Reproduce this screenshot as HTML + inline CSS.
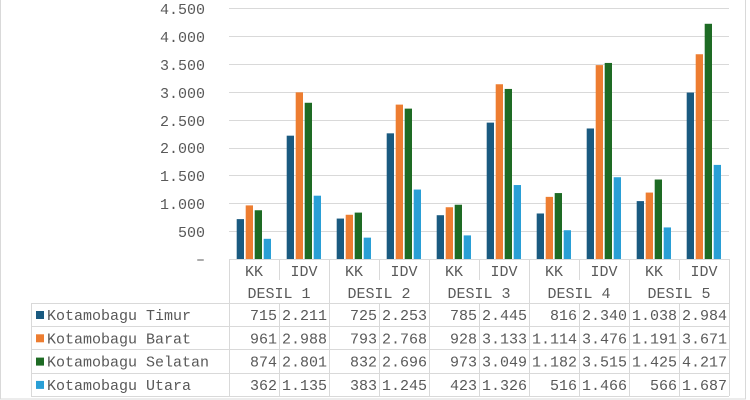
<!DOCTYPE html><html><head><style>body{margin:0;background:#fff}svg{display:block}svg text{font-family:"Liberation Mono","Courier New","DejaVu Sans Mono",monospace !important;fill:#595959;font-size:15px}</style></head><body>
<svg width="750" height="400" xmlns="http://www.w3.org/2000/svg" font-family="Liberation Mono, DejaVu Sans Mono, monospace">
<rect x="0.5" y="-1" width="745" height="400" fill="none" stroke="#d9d9d9"/>
<g stroke="#d9d9d9" stroke-width="1">
<line x1="229" x2="729" y1="8.5" y2="8.5"/><line x1="229" x2="729" y1="36.5" y2="36.5"/><line x1="229" x2="729" y1="64.5" y2="64.5"/><line x1="229" x2="729" y1="92.5" y2="92.5"/><line x1="229" x2="729" y1="120.5" y2="120.5"/><line x1="229" x2="729" y1="148.5" y2="148.5"/><line x1="229" x2="729" y1="175.5" y2="175.5"/><line x1="229" x2="729" y1="203.5" y2="203.5"/><line x1="229" x2="729" y1="231.5" y2="231.5"/><line x1="229" x2="729" y1="259.5" y2="259.5"/>
</g>
<g text-anchor="end">
<text x="205" y="14">4.500</text><text x="205" y="42">4.000</text><text x="205" y="70">3.500</text><text x="205" y="98">3.000</text><text x="205" y="126">2.500</text><text x="205" y="153">2.000</text><text x="205" y="181">1.500</text><text x="205" y="209">1.000</text><text x="205" y="237">500</text><text x="205" y="264">–</text>
</g>
<g id="bars"></g>
<g stroke="#d9d9d9" fill="none">
<line x1="229.5" y1="259" x2="229.5" y2="396"/>
<line x1="279.5" y1="259" x2="279.5" y2="280"/><line x1="379.5" y1="259" x2="379.5" y2="280"/><line x1="479.5" y1="259" x2="479.5" y2="280"/><line x1="579.5" y1="259" x2="579.5" y2="280"/><line x1="679.5" y1="259" x2="679.5" y2="280"/>
<line x1="329.5" y1="259" x2="329.5" y2="396"/><line x1="429.5" y1="259" x2="429.5" y2="396"/><line x1="529.5" y1="259" x2="529.5" y2="396"/><line x1="629.5" y1="259" x2="629.5" y2="396"/><line x1="729.5" y1="259" x2="729.5" y2="396"/>
<line x1="279.5" y1="303" x2="279.5" y2="396"/><line x1="379.5" y1="303" x2="379.5" y2="396"/><line x1="479.5" y1="303" x2="479.5" y2="396"/><line x1="579.5" y1="303" x2="579.5" y2="396"/><line x1="679.5" y1="303" x2="679.5" y2="396"/>
<line x1="31" x2="729" y1="303.5" y2="303.5"/><line x1="31" x2="729" y1="326.5" y2="326.5"/><line x1="31" x2="729" y1="349.5" y2="349.5"/><line x1="31" x2="729" y1="373.5" y2="373.5"/><line x1="31" x2="729" y1="396.5" y2="396.5"/>
<line x1="31.5" y1="303" x2="31.5" y2="396"/>
</g>
<g id="tbl"></g>
</svg>
<script>
var ns="http://www.w3.org/2000/svg";
var cols=["#1a5a80","#ed7d31","#1e6b24","#2a9fd6"];
var names=["Kotamobagu Timur","Kotamobagu Barat","Kotamobagu Selatan","Kotamobagu Utara"];
var d=[[715,2211,725,2253,785,2445,816,2340,1038,2984],[961,2988,793,2768,928,3133,1114,3476,1191,3671],[874,2801,832,2696,973,3049,1182,3515,1425,4217],[362,1135,383,1245,423,1326,516,1466,566,1687]];
function el(t,a,p,txt){var e=document.createElementNS(ns,t);for(var k in a)e.setAttribute(k,a[k]);if(txt!=null)e.textContent=txt;p.appendChild(e);return e}
var b=document.getElementById("bars"),tb=document.getElementById("tbl");
function fmt(v){var s=String(v);return s.length>3?s.slice(0,-3)+"."+s.slice(-3):s}
for(var c=0;c<10;c++){var x0=229+c*50;
 el("text",{x:x0+25,y:276,"text-anchor":"middle"},tb,c%2?"IDV":"KK");
 if(c%2==0)el("text",{x:x0+50,y:298,"text-anchor":"middle"},tb,"DESIL "+(c/2+1));
 for(var s=0;s<4;s++){var v=d[s][c],h=v*251/4500;
  el("rect",{x:x0+7.7+s*9,y:259-h,width:7.3,height:h,fill:cols[s]},b);
  el("text",{x:x0+48,y:320+s*23.3,"text-anchor":"end"},tb,fmt(v));}
}
for(var s=0;s<4;s++){el("rect",{x:36,y:311+s*23.3,width:8,height:8,fill:cols[s]},tb);
 el("text",{x:47,y:320+s*23.3},tb,names[s]);}
</script>
</body></html>
